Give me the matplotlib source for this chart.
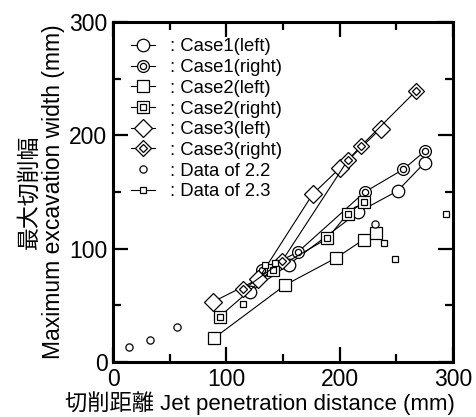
import matplotlib
matplotlib.use('Agg')
import matplotlib.pyplot as plt
from matplotlib.lines import Line2D
from matplotlib.ticker import MultipleLocator

plt.rcParams['font.family'] = ['Liberation Sans', 'Noto Sans CJK JP']

# Case 1: circles / bullseye circles
case1_left_x = [121, 155, 216, 251, 275]
case1_left_y = [62, 86, 132, 151, 176]
case1_right_x = [131, 163, 222, 256, 275]
case1_right_y = [81, 97, 150, 170, 186]

# Case 2: squares / double squares
case2_left_x = [89, 152, 197, 221, 232]
case2_left_y = [21, 68, 92, 108, 114]
case2_right_x = [94, 141, 189, 207, 221]
case2_right_y = [40, 81, 109, 131, 141]

# Case 3: diamonds / double diamonds
case3_left_x = [88, 128, 176, 200, 236]
case3_left_y = [53, 73, 148, 171, 206]
case3_right_x = [115, 149, 207, 219, 267]
case3_right_y = [64, 89, 178, 191, 239]

# earlier data (sections 2.2 and 2.3)
data22_x = [14, 33, 56, 231]
data22_y = [13, 19, 31, 122]
data23_x = [115, 134, 143, 239, 249, 294]
data23_y = [51, 86, 87, 105, 91, 131]

fig = plt.figure(figsize=(4.77, 4.17), dpi=100)
ax = fig.add_axes([0.237, 0.132, 0.713, 0.815])

lw = 0.8
mew = 0.9


def series(x, y, marker, ms, inner_ms=None, line=True):
    ls = '-' if line else 'none'
    outer, = ax.plot(x, y, linestyle=ls, color='black', lw=lw, marker=marker,
                     ms=ms, mfc='white', mec='black', mew=mew)
    if inner_ms is None:
        return outer
    inner, = ax.plot(x, y, linestyle='none', marker=marker, ms=inner_ms,
                     mfc='white', mec='black', mew=mew)
    return (outer, inner)


h1l = series(case1_left_x, case1_left_y, 'o', 9)
h1r = series(case1_right_x, case1_right_y, 'o', 8.5, inner_ms=4.5)
h2l = series(case2_left_x, case2_left_y, 's', 8.8)
h2r = series(case2_right_x, case2_right_y, 's', 8.3, inner_ms=4.5)
h3l = series(case3_left_x, case3_left_y, 'D', 9.5)
h3r = series(case3_right_x, case3_right_y, 'D', 8, inner_ms=4)
h22 = series(data22_x, data22_y, 'o', 5.2, line=False)
series(data23_x, data23_y, 's', 5, line=False)
h23 = Line2D([], [], color='black', lw=lw, marker='s', ms=5,
             mfc='white', mec='black', mew=mew)

handles = [h1l, h1r, h2l, h2r, h3l, h3r, h22, h23]
labels = [': Case1(left)', ': Case1(right)', ': Case2(left)', ': Case2(right)',
          ': Case3(left)', ': Case3(right)', ': Data of 2.2', ': Data of 2.3']
ax.legend(handles, labels, loc='upper left', bbox_to_anchor=(0.015, 0.99),
          frameon=False, fontsize=13.3, handlelength=1.3, handletextpad=0.8,
          labelspacing=0.2, borderaxespad=0.3)

ax.set_xlim(0, 300)
ax.set_ylim(0, 300)
ax.xaxis.set_major_locator(MultipleLocator(100))
ax.xaxis.set_minor_locator(MultipleLocator(50))
ax.yaxis.set_major_locator(MultipleLocator(100))
ax.yaxis.set_minor_locator(MultipleLocator(50))
ax.tick_params(which='both', direction='in', top=True, right=True,
               labelsize=16.5, width=1.6, pad=4)
ax.tick_params(which='major', length=11)
ax.tick_params(which='minor', length=5.5)
for sp in ax.spines.values():
    sp.set_linewidth(2.2)

ax.set_xlabel('切削距離 Jet penetration distance (mm)', fontsize=16)
ax.xaxis.set_label_coords(0.431, -0.086)
ax.set_ylabel('最大切削幅\nMaximum excavation width (mm)', fontsize=16.5,
              labelpad=3, linespacing=1.1)

fig.savefig('out.png', dpi=100)
